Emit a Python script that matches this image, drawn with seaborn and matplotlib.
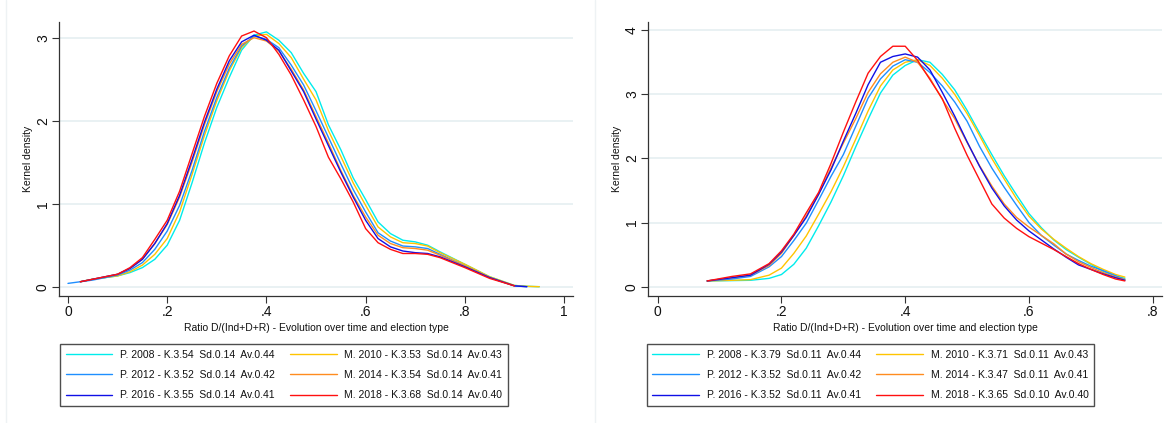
import numpy as np
import pandas as pd
import matplotlib
matplotlib.use("Agg")
import matplotlib.pyplot as plt
from matplotlib.lines import Line2D
import seaborn as sns

nan = np.nan

# ---------------- data ----------------
left_x = [0.0, 0.025, 0.05, 0.1, 0.125, 0.15, 0.175, 0.2, 0.225, 0.25, 0.275, 0.3, 0.325, 0.35,
          0.375, 0.4, 0.425, 0.45, 0.475, 0.5, 0.525, 0.55, 0.575, 0.6, 0.625, 0.65, 0.675,
          0.7, 0.725, 0.75, 0.8, 0.85, 0.9, 0.925, 0.95]
left_p2008 = [nan, 0.06, 0.09, 0.13, 0.17, 0.23, 0.33, 0.50, 0.80, 1.25, 1.73, 2.16, 2.52, 2.85,
              3.03, 3.07, 2.97, 2.82, 2.57, 2.35, 1.95, 1.65, 1.31, 1.05, 0.78, 0.64, 0.56,
              0.54, 0.50, 0.42, 0.27, 0.12, 0.015, 0.005, 0.0]
left_m2010 = [nan, 0.06, 0.09, 0.13, 0.18, 0.26, 0.39, 0.58, 0.90, 1.35, 1.82, 2.24, 2.60, 2.88,
              3.02, 3.04, 2.93, 2.76, 2.50, 2.25, 1.88, 1.57, 1.25, 0.98, 0.72, 0.60, 0.53,
              0.52, 0.49, 0.41, 0.27, 0.12, 0.015, 0.005, 0.0]
left_p2012 = [0.04, 0.06, 0.08, 0.14, 0.20, 0.29, 0.45, 0.67, 0.98, 1.40, 1.87, 2.28, 2.63, 2.90,
              3.02, 2.98, 2.88, 2.67, 2.43, 2.12, 1.80, 1.48, 1.17, 0.90, 0.65, 0.55, 0.49,
              0.48, 0.46, 0.39, 0.25, 0.11, 0.01, 0.0, nan]
left_m2014 = [nan, 0.06, 0.09, 0.15, 0.22, 0.33, 0.52, 0.75, 1.08, 1.50, 1.95, 2.35, 2.68, 2.92,
              3.00, 2.96, 2.84, 2.62, 2.37, 2.05, 1.73, 1.40, 1.10, 0.84, 0.62, 0.52, 0.47,
              0.46, 0.44, 0.38, 0.25, 0.11, 0.01, nan, nan]
left_p2016 = [nan, 0.06, 0.09, 0.15, 0.22, 0.33, 0.52, 0.76, 1.10, 1.53, 1.98, 2.38, 2.72, 2.95,
              3.03, 2.97, 2.85, 2.60, 2.35, 2.02, 1.70, 1.38, 1.08, 0.80, 0.58, 0.48, 0.43,
              0.41, 0.40, 0.36, 0.24, 0.11, 0.01, 0.0, nan]
left_m2018 = [nan, 0.06, 0.09, 0.15, 0.23, 0.35, 0.57, 0.80, 1.15, 1.60, 2.05, 2.45, 2.78, 3.02,
              3.08, 3.00, 2.80, 2.55, 2.25, 1.93, 1.56, 1.30, 1.02, 0.70, 0.53, 0.45, 0.40,
              0.40, 0.39, 0.35, 0.23, 0.10, 0.01, nan, nan]

right_x = [0.08, 0.12, 0.15, 0.18, 0.20, 0.22, 0.24, 0.26, 0.28, 0.30, 0.32, 0.34, 0.36, 0.38,
           0.40, 0.42, 0.44, 0.46, 0.48, 0.50, 0.52, 0.54, 0.56, 0.58, 0.60, 0.62, 0.64, 0.66,
           0.68, 0.70, 0.72, 0.74, 0.755]
right_p2008 = [0.09, 0.095, 0.10, 0.13, 0.19, 0.35, 0.60, 0.95, 1.32, 1.73, 2.18, 2.61, 3.02, 3.30,
               3.45, 3.54, 3.50, 3.31, 3.07, 2.75, 2.40, 2.06, 1.73, 1.43, 1.14, 0.92, 0.73, 0.58,
               0.46, 0.35, 0.24, 0.17, 0.13]
right_m2010 = [0.09, 0.10, 0.11, 0.18, 0.29, 0.52, 0.79, 1.13, 1.48, 1.87, 2.30, 2.74, 3.13, 3.38,
               3.50, 3.54, 3.45, 3.25, 3.00, 2.70, 2.36, 2.00, 1.68, 1.37, 1.10, 0.90, 0.74, 0.60,
               0.47, 0.36, 0.27, 0.19, 0.15]
right_p2012 = [0.09, 0.12, 0.16, 0.31, 0.47, 0.72, 0.99, 1.35, 1.72, 2.06, 2.50, 2.94, 3.24, 3.44,
               3.54, 3.50, 3.34, 3.13, 2.88, 2.58, 2.19, 1.85, 1.55, 1.27, 1.00, 0.80, 0.65, 0.51,
               0.41, 0.32, 0.25, 0.17, 0.11]
right_m2014 = [0.09, 0.14, 0.18, 0.33, 0.52, 0.80, 1.10, 1.44, 1.85, 2.24, 2.62, 3.03, 3.32, 3.50,
               3.58, 3.50, 3.25, 2.92, 2.62, 2.25, 1.89, 1.57, 1.29, 1.08, 0.93, 0.80, 0.67, 0.51,
               0.39, 0.30, 0.22, 0.15, 0.11]
right_p2016 = [0.09, 0.14, 0.18, 0.35, 0.54, 0.80, 1.08, 1.44, 1.82, 2.27, 2.70, 3.15, 3.50, 3.59,
               3.63, 3.58, 3.38, 3.03, 2.66, 2.26, 1.88, 1.54, 1.26, 1.04, 0.87, 0.73, 0.59, 0.46,
               0.34, 0.27, 0.20, 0.14, 0.10]
right_m2018 = [0.09, 0.16, 0.20, 0.36, 0.56, 0.82, 1.15, 1.47, 1.92, 2.41, 2.88, 3.33, 3.59, 3.75,
               3.75, 3.53, 3.23, 2.93, 2.47, 2.05, 1.67, 1.29, 1.07, 0.91, 0.78, 0.68, 0.58, 0.47,
               0.36, 0.27, 0.19, 0.12, 0.09]

left_labels = {
    "p2008": "P. 2008 - K.3.54  Sd.0.14  Av.0.44",
    "p2012": "P. 2012 - K.3.52  Sd.0.14  Av.0.42",
    "p2016": "P. 2016 - K.3.55  Sd.0.14  Av.0.41",
    "m2010": "M. 2010 - K.3.53  Sd.0.14  Av.0.43",
    "m2014": "M. 2014 - K.3.54  Sd.0.14  Av.0.41",
    "m2018": "M. 2018 - K.3.68  Sd.0.14  Av.0.40",
}
right_labels = {
    "p2008": "P. 2008 - K.3.79  Sd.0.11  Av.0.44",
    "p2012": "P. 2012 - K.3.52  Sd.0.11  Av.0.42",
    "p2016": "P. 2016 - K.3.52  Sd.0.11  Av.0.41",
    "m2010": "M. 2010 - K.3.71  Sd.0.11  Av.0.43",
    "m2014": "M. 2014 - K.3.47  Sd.0.11  Av.0.41",
    "m2018": "M. 2018 - K.3.65  Sd.0.10  Av.0.40",
}
left_xticks = [0, 0.2, 0.4, 0.6, 0.8, 1.0]
left_xticklabels = ["0", ".2", ".4", ".6", ".8", "1"]
left_yticks = [0, 1, 2, 3]
right_xticks = [0, 0.2, 0.4, 0.6, 0.8]
right_xticklabels = ["0", ".2", ".4", ".6", ".8"]
right_yticks = [0, 1, 2, 3, 4]
xlabel = "Ratio D/(Ind+D+R) - Evolution over time and election type"
ylabel = "Kernel density"

# ---------------- styling ----------------
colors = {
    "p2008": "#00ecec",
    "m2010": "#ffc400",
    "p2012": "#1e8fff",
    "m2014": "#ff8c1f",
    "p2016": "#1010e6",
    "m2018": "#ff1010",
}
draw_order = ["p2008", "m2010", "p2012", "m2014", "p2016", "m2018"]
legend_order = ["p2008", "p2012", "p2016", "m2010", "m2014", "m2018"]

sns.set_theme(style="white")
plt.rcParams["font.family"] = ["Liberation Sans", "DejaVu Sans"]

W, H = 1164, 423
fig = plt.figure(figsize=(W / 100, H / 100), dpi=100)

SMALL = 7.5


def px_axes(l, t, r, b):
    return fig.add_axes([l / W, 1 - b / H, (r - l) / W, (b - t) / H])


def make_panel(ax, xs, series, labels, xticks, xticklabels, yticks, xlim, ylim, legend_center):
    frames = []
    for key in draw_order:
        frames.append(pd.DataFrame({"x": xs, "y": series[key], "series": key}))
    df = pd.concat(frames, ignore_index=True).dropna()
    sns.lineplot(data=df, x="x", y="y", hue="series", hue_order=draw_order,
                 palette=colors, estimator=None, sort=False, linewidth=1.0,
                 legend=False, ax=ax)
    ax.set_xlim(*xlim)
    ax.set_ylim(*ylim)
    ax.set_xticks(xticks)
    ax.set_xticklabels(xticklabels)
    ax.set_yticks(yticks)
    ax.set_yticklabels([str(v) for v in yticks])
    for lab in ax.get_yticklabels():
        lab.set_rotation(90)
        lab.set_va("center")
    ax.grid(False)
    for yv in yticks:
        ax.axhline(yv, color="#e9f1f3", linewidth=1.4, zorder=0)
    for s in ["top", "right"]:
        ax.spines[s].set_visible(False)
    for s in ["left", "bottom"]:
        ax.spines[s].set_color("#333333")
        ax.spines[s].set_linewidth(0.9)
    ax.tick_params(axis="both", direction="out", length=5, width=0.8, color="#333333",
                   labelsize=10, pad=1.5, labelcolor="#111111")
    ax.tick_params(axis="both", which="both", bottom=True, left=True)
    ax.set_xlabel(xlabel, fontsize=SMALL, labelpad=2.5, color="#111111")
    ax.set_ylabel(ylabel, fontsize=SMALL, labelpad=2, color="#111111")
    ax.set_facecolor("white")

    handles = [Line2D([0], [0], color=colors[k], linewidth=1.0) for k in legend_order]
    leg = fig.legend(handles, [labels[k] for k in legend_order], ncol=2, loc="center",
                     bbox_to_anchor=(legend_center[0] / W, 1 - legend_center[1] / H),
                     fontsize=SMALL, frameon=True, fancybox=False, shadow=False,
                     handlelength=4.5, handletextpad=0.75, columnspacing=1.4,
                     labelspacing=1.0, borderpad=0.5)
    leg.get_frame().set_edgecolor("#222222")
    leg.get_frame().set_linewidth(1.0)
    for t in leg.get_texts():
        t.set_color("#111111")


left_series = {"p2008": left_p2008, "m2010": left_m2010, "p2012": left_p2012,
               "m2014": left_m2014, "p2016": left_p2016, "m2018": left_m2018}
right_series = {"p2008": right_p2008, "m2010": right_m2010, "p2012": right_p2012,
                "m2014": right_m2014, "p2016": right_p2016, "m2018": right_m2018}

ax1 = px_axes(59, 22, 573, 296)
make_panel(ax1, left_x, left_series, left_labels, left_xticks, left_xticklabels, left_yticks,
           (-0.0181, 1.018), (-0.112, 3.189), (284, 375))

ax2 = px_axes(648, 22, 1162, 296)
make_panel(ax2, right_x, right_series, right_labels, right_xticks, right_xticklabels, right_yticks,
           (-0.0157, 0.815), (-0.145, 4.128), (870.5, 375))

# faint graph-region borders
for xp in (6, 595):
    fig.add_artist(Line2D([xp / W, xp / W], [0, 1], transform=fig.transFigure,
                          color="#eef2f4", linewidth=1.0))

fig.savefig("out.png", dpi=100, facecolor="white")
